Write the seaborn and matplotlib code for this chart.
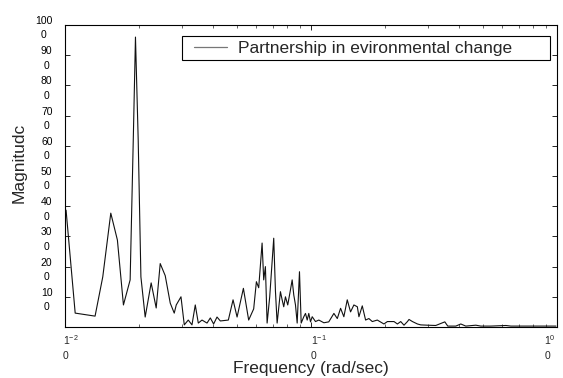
import matplotlib
matplotlib.use("Agg")
import matplotlib.pyplot as plt
import matplotlib.transforms as mtransforms
from matplotlib.patches import Rectangle
from matplotlib.ticker import LogLocator, NullFormatter
import seaborn as sns
import pandas as pd

# Spectrum read along the log-frequency axis
freq = [0.0101, 0.0110, 0.01325, 0.01424, 0.01535, 0.01633, 0.01728, 0.0184,
        0.01897, 0.01934, 0.01984, 0.02035, 0.02118, 0.0224, 0.02348, 0.02438,
        0.02555, 0.02678, 0.0278, 0.02833, 0.02961, 0.03054, 0.0317, 0.03282,
        0.03385, 0.03482, 0.03605, 0.03778, 0.03897, 0.04019, 0.04149, 0.0428,
        0.04613, 0.04821, 0.05006, 0.05311, 0.0558, 0.05848, 0.05998, 0.06129,
        0.06327, 0.06423, 0.06526, 0.06631, 0.06795, 0.07055, 0.07168, 0.07283,
        0.07512, 0.07633, 0.07748, 0.07872, 0.08044, 0.08251, 0.08383, 0.08511,
        0.08648, 0.08786, 0.08978, 0.09122, 0.09348, 0.09498, 0.0965, 0.09795,
        0.09954, 0.10113, 0.1043, 0.1076, 0.1128, 0.1181, 0.1239, 0.1279,
        0.1319, 0.136, 0.1404, 0.1448, 0.1494, 0.1543, 0.1566, 0.1616,
        0.1667, 0.1719, 0.1775, 0.186, 0.1979, 0.2044, 0.2175, 0.2245,
        0.2316, 0.2388, 0.2466, 0.2503, 0.2584, 0.2708, 0.2793, 0.2973,
        0.3215, 0.3499, 0.3597, 0.3878, 0.4064, 0.4258, 0.4678, 0.4902,
        0.5385, 0.6199, 0.6495, 0.7475, 0.8604, 0.9906]
magnitude = [38.7, 4.6, 3.6, 16.6, 37.7, 28.8, 7.3, 15.6,
             64.0, 96.0, 62.0, 16.6, 3.3, 14.6, 6.3, 21.0,
             17.0, 7.9, 4.6, 7.3, 10.0, 0.7, 2.3, 0.7,
             7.3, 1.3, 2.3, 1.3, 3.0, 1.0, 3.3, 2.0,
             2.3, 9.0, 3.3, 12.8, 2.3, 6.0, 15.0, 13.0,
             27.8, 15.6, 20.0, 1.3, 10.0, 29.4, 12.0, 1.3,
             11.7, 9.0, 6.7, 10.0, 7.3, 12.3, 15.6, 10.6,
             7.3, 1.3, 18.3, 1.3, 3.4, 4.5, 2.3, 4.5,
             1.7, 3.4, 1.8, 2.3, 1.4, 1.7, 4.5, 2.8,
             6.2, 3.4, 9.0, 5.0, 7.3, 6.7, 3.4, 7.0,
             2.3, 2.8, 1.8, 2.3, 1.0, 1.8, 1.8, 1.0,
             1.8, 0.6, 1.8, 2.5, 1.8, 1.0, 0.7, 0.6,
             0.5, 1.7, 0.3, 0.3, 1.0, 0.3, 0.6, 0.3,
             0.3, 0.5, 0.3, 0.3, 0.3, 0.3]

series_name = "Partnership in evironmental change"

y_ticks = [10, 20, 30, 40, 50, 60, 70, 80, 90, 100]
y_tick_labels = ["10\n0", "20\n0", "30\n0", "40\n0", "50\n0",
                 "60\n0", "70\n0", "80\n0", "90\n0", "100\n0"]
x_ticks = [0.01, 0.1, 1.0]
x_tick_labels = ["1$^{-2}$\n0", "1$^{-1}$\n0", "1$^{0}$\n0"]

sns.set_style("ticks")
plt.rcParams["font.family"] = ["Liberation Sans", "DejaVu Sans"]
plt.rcParams["mathtext.fontset"] = "custom"
plt.rcParams["mathtext.rm"] = "Liberation Sans"
plt.rcParams["mathtext.it"] = "Liberation Sans:italic"
plt.rcParams["mathtext.bf"] = "Liberation Sans:bold"

df = pd.DataFrame({"freq": freq, "mag": magnitude})

W, H = 563, 378
fig = plt.figure(figsize=(W / 100, H / 100), dpi=100)
ax = fig.add_axes([65 / W, 51 / H, 492 / W, 302 / H])

sns.lineplot(data=df, x="freq", y="mag", ax=ax, color="#111111",
             linewidth=0.8, estimator=None, sort=False, label=series_name)

ax.set_xscale("log")
ax.set_xlim(0.01, 1.0)
ax.set_ylim(0, 100)

for side in ["top", "right", "left", "bottom"]:
    ax.spines[side].set_visible(True)
    ax.spines[side].set_linewidth(0.8)
    ax.spines[side].set_color("black")

ax.set_yticks(y_ticks)
ax.set_yticklabels(y_tick_labels, fontsize=7.5, linespacing=1.55,
                   multialignment="center")
ax.set_xticks(x_ticks)
ax.set_xticklabels([])
ax.xaxis.set_minor_locator(LogLocator(base=10, subs=range(2, 10)))
ax.xaxis.set_minor_formatter(NullFormatter())
ax.tick_params(axis="both", which="major", direction="in", length=3.5,
               width=0.6, top=True, right=True, colors="black")
ax.tick_params(axis="both", which="minor", direction="in", length=2,
               width=0.5, top=True, right=True)
ax.tick_params(axis="y", pad=9)

# decade labels under the frequency axis
xt = ax.get_xaxis_transform()
for pos, lab, ha, dx in zip(x_ticks, x_tick_labels,
                            ["left", "left", "right"], [-2, 0, -1]):
    off = mtransforms.offset_copy(xt, fig=fig, x=dx, y=-6, units="dots")
    ax.text(pos, 0, lab, transform=off, ha=ha, va="top", fontsize=7.5,
            multialignment="left", linespacing=1.55)

ax.set_xlabel("Frequency (rad/sec)", fontsize=12.5)
ax.xaxis.set_label_coords(0.5, -0.112)
ax.set_ylabel("Magnitudc", fontsize=12.5)
ax.yaxis.set_label_coords(-0.077, 0.545)

# legend entry plus its rectangular border
leg_left = (194 - 65) / 492
leg_mid = (327 - 48) / 302
leg = ax.legend(loc="center left", bbox_to_anchor=(leg_left, leg_mid),
                fontsize=12.5, frameon=False, handlelength=1.9,
                handletextpad=0.62, borderpad=0, borderaxespad=0)
for line in leg.get_lines():
    line.set_color("#777777")
    line.set_linewidth(0.9)
box = Rectangle(((182 - 65) / 492, (327 - 60) / 302), (550 - 182) / 492,
                24 / 302, transform=ax.transAxes, fill=True,
                facecolor="white", edgecolor="black", linewidth=0.8,
                zorder=4)
ax.add_patch(box)
leg.set_zorder(5)

fig.savefig("out.png", dpi=100, facecolor="white")
